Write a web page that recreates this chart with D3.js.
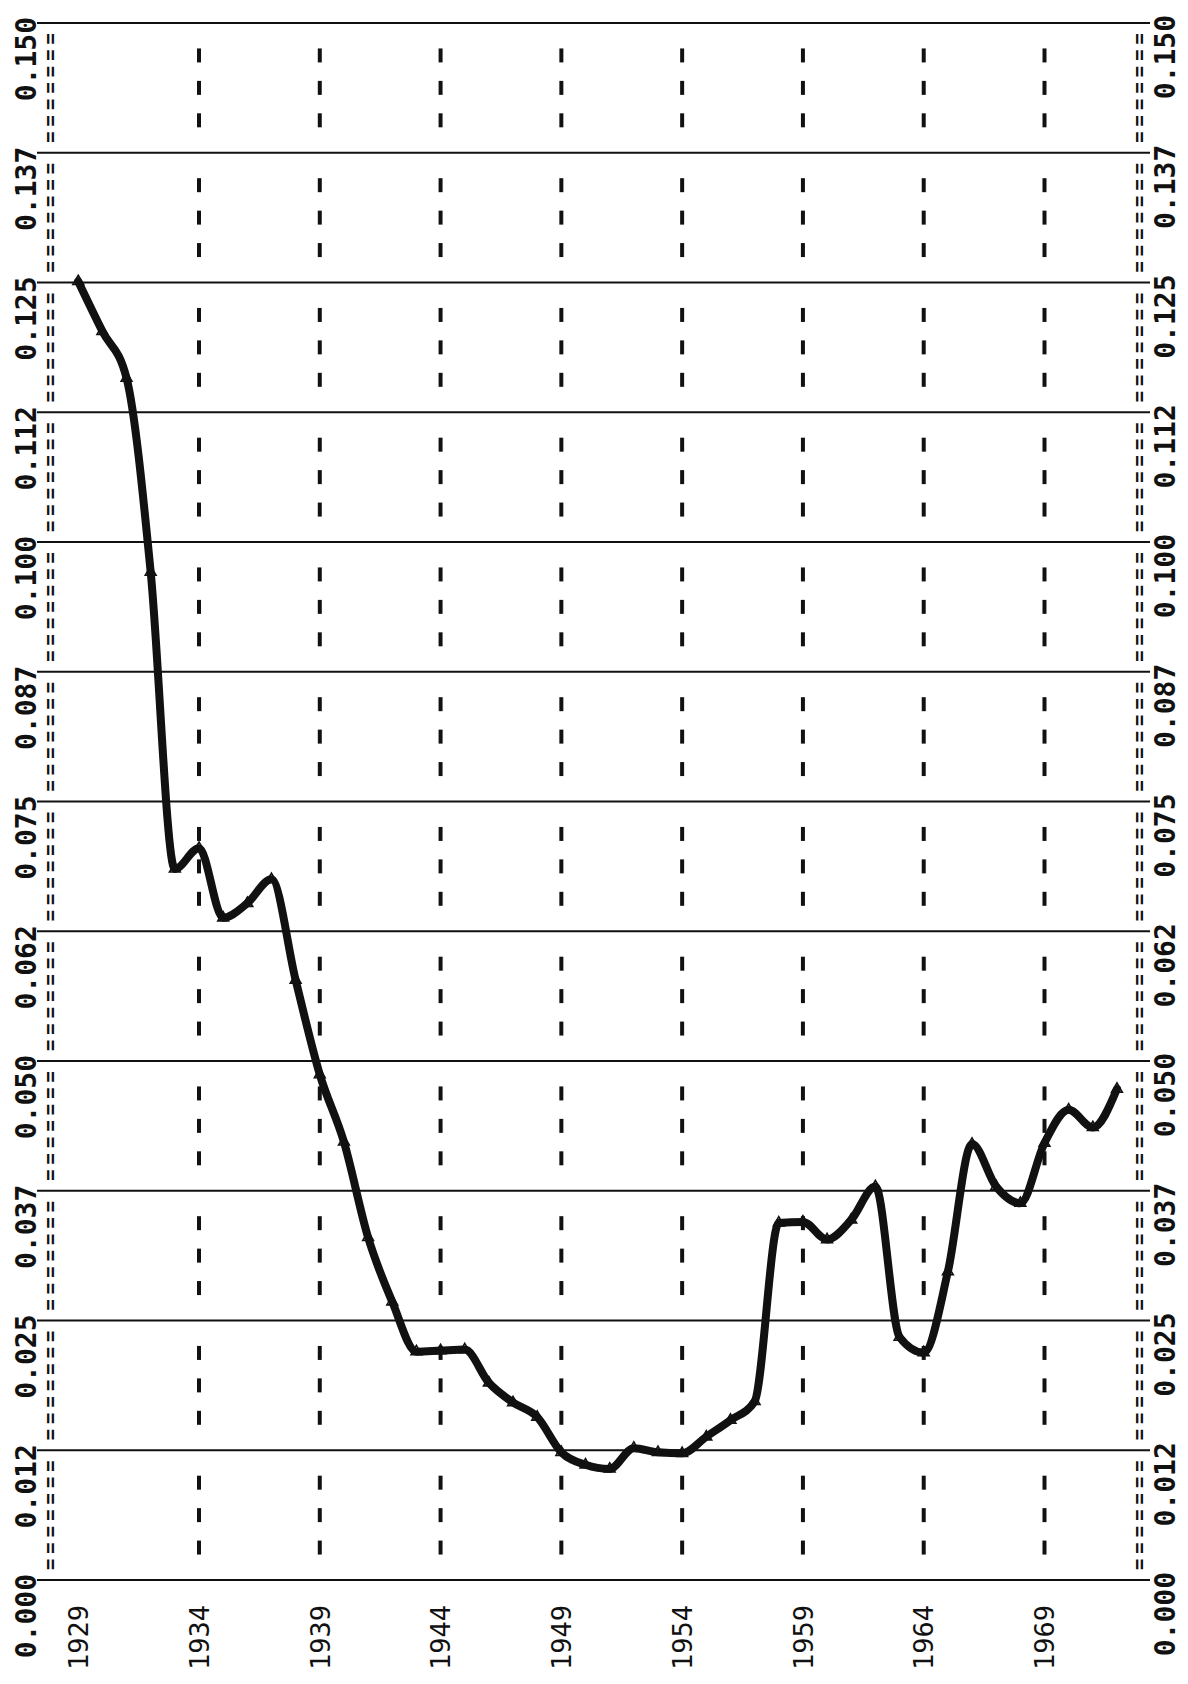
<!DOCTYPE html>
<html><head><meta charset="utf-8">
<script src="https://cdn.jsdelivr.net/npm/d3@7"></script>
<style>body{margin:0;background:#fff}</style>
</head><body><svg id="c" width="1188" height="1684"></svg>
<script>
const years = [1929,1930,1931,1932,1933,1934,1935,1936,1937,1938,1939,1940,1941,1942,1943,1944,1945,1946,1947,1948,1949,1950,1951,1952,1953,1954,1955,1956,1957,1958,1959,1960,1961,1962,1963,1964,1965,1966,1967,1968,1969,1970,1971,1972];
const values = [0.1251,0.1203,0.1158,0.0971,0.0685,0.0705,0.0638,0.0652,0.0675,0.0578,0.0487,0.0422,0.0330,0.0268,0.0220,0.0221,0.0222,0.0190,0.0171,0.0157,0.0123,0.0111,0.0107,0.0127,0.0123,0.0122,0.0138,0.0154,0.0172,0.0344,0.0345,0.0328,0.0347,0.0379,0.0234,0.0219,0.0297,0.0420,0.0379,0.0363,0.0421,0.0453,0.0436,0.0473];
const yTickValues = [0,0.0125,0.025,0.0375,0.05,0.0625,0.075,0.0875,0.1,0.1125,0.125,0.1375,0.15];
const yTickLabels = ["0.000","0.012","0.025","0.037","0.050","0.062","0.075","0.087","0.100","0.112","0.125","0.137","0.150"];
const xTickYears = [1929,1934,1939,1944,1949,1954,1959,1964,1969];
const dashedYears = [1934,1939,1944,1949,1954,1959,1964,1969];

const svg = d3.select("#c");
const x = d3.scaleLinear().domain([1934,1969]).range([199,1044.5]);
const y = d3.scaleLinear().domain([0,0.15]).range([1580,23]);
const ink = "#111";
const mono = "'DejaVu Sans Mono', 'Liberation Mono', monospace";

// horizontal grid lines
svg.append("g").selectAll("line").data(yTickValues).join("line")
  .attr("x1",37).attr("x2",1150)
  .attr("y1",d=>y(d)).attr("y2",d=>y(d))
  .attr("stroke",ink).attr("stroke-width",2);

// vertical dashed year lines (dash at each quarter of a grid interval)
const dashData = [];
dashedYears.forEach(yr=>{
  for(let i=0;i<yTickValues.length-1;i++){
    const a=y(yTickValues[i]), b=y(yTickValues[i+1]);
    for(let j=1;j<=3;j++) dashData.push({x:x(yr), cy:a+(b-a)*j/4});
  }
});
svg.append("g").selectAll("line").data(dashData).join("line")
  .attr("x1",d=>d.x).attr("x2",d=>d.x)
  .attr("y1",d=>d.cy-7).attr("y2",d=>d.cy+7)
  .attr("stroke",ink).attr("stroke-width",4);

// "=" columns
const intervals = d3.range(yTickValues.length-1).map(i=>({top:y(yTickValues[i+1])+10,bot:y(yTickValues[i])-10}));
[51,1140].forEach(cx=>{
  svg.append("g").selectAll("text").data(intervals).join("text")
    .attr("transform",d=>`translate(${cx},${d.bot}) rotate(-90)`)
    .attr("dy","0.32em")
    .attr("text-anchor","start")
    .attr("textLength",d=>d.bot-d.top)
    .attr("lengthAdjust","spacing")
    .style("font-family",mono).style("font-size","19px").style("font-weight","bold")
    .attr("fill",ink)
    .text("=======");
});

// value labels, left and right
[{cx:26,off:6},{cx:1165,off:8}].forEach(s=>{
  svg.append("g").selectAll("text").data(yTickValues).join("text")
    .attr("transform",d=>`translate(${s.cx},${y(d)-s.off}) rotate(-90)`)
    .attr("dy","0.36em")
    .attr("text-anchor","end")
    .style("font-family",mono).style("font-size","28px").style("font-weight","bold")
    .attr("fill",ink)
    .text((d,i)=>yTickLabels[i]);
});

// year labels
svg.append("g").selectAll("text").data(xTickYears).join("text")
  .attr("transform",d=>`translate(${x(d)},1670) rotate(-90)`)
  .attr("dy","0.36em")
  .attr("text-anchor","start")
  .style("font-family",mono).style("font-size","27px")
  .attr("fill",ink)
  .text(d=>d);

// curve
const pts = years.map((yr,i)=>({yr,v:values[i]}));
const line = d3.line().x(d=>x(d.yr)).y(d=>y(d.v)).curve(d3.curveMonotoneX);
svg.append("path").datum(pts).attr("d",line)
  .attr("fill","none").attr("stroke",ink).attr("stroke-width",8)
  .attr("stroke-linejoin","round").attr("stroke-linecap","round");

// markers
const sym = d3.symbol().type(d3.symbolTriangle).size(50);
svg.append("g").selectAll("path").data(pts).join("path")
  .attr("transform",d=>`translate(${x(d.yr)},${y(d.v)})`)
  .attr("d",sym)
  .attr("fill","none").attr("stroke",ink).attr("stroke-width",1.6);
</script></body></html>
